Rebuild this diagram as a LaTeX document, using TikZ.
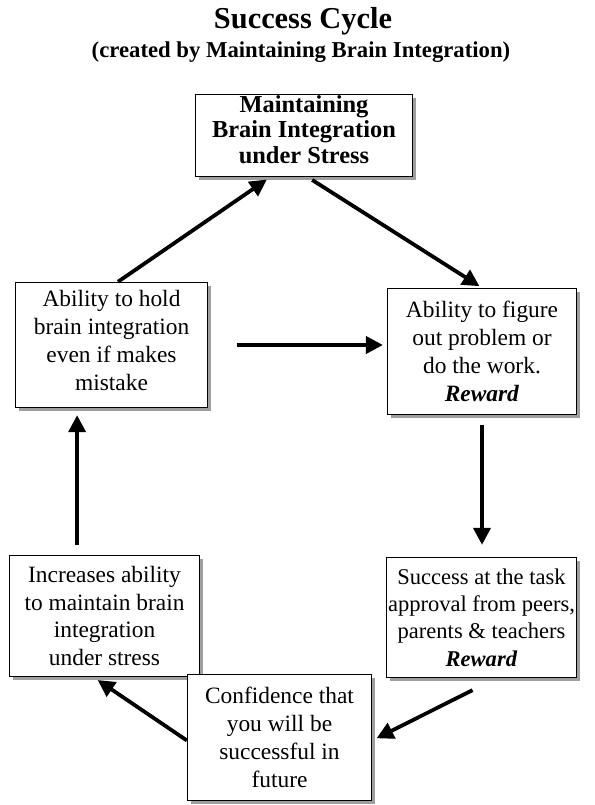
\documentclass[tikz,border=0pt]{standalone}
\usepackage{fontspec}
\setmainfont{Liberation Serif}
\usetikzlibrary{arrows.meta,shadows,calc}
\tikzset{
  box/.style={draw=black, line width=0.9pt, fill=white, align=center, inner sep=0pt,
    font=\fontsize{23.5}{28}\selectfont,
    drop shadow={shadow xshift=3.5pt, shadow yshift=-3.5pt, fill=gray!75, opacity=1}},
  arr/.style={line width=3.8pt, -{Triangle[length=17pt,width=17pt]}},
}
\begin{document}
\begin{tikzpicture}[x=1bp,y=-1bp]
\useasboundingbox (0,0) rectangle (595,805);
\node[font=\bfseries\fontsize{30.5}{34}\selectfont] (title) at (303,21) {Success Cycle};
\node[font=\bfseries\fontsize{22.8}{26}\selectfont] (sub) at (301,52) {(created by Maintaining Brain Integration)};

\node[box, minimum width=218, minimum height=83, font=\bfseries\fontsize{24.5}{26}\selectfont] (T) at (304,135.5)
  {Maintaining\\Brain Integration\\under Stress\rule[-12pt]{0pt}{1pt}};
\node[box, minimum width=193, minimum height=126] (L) at (111.5,345)
  {Ability to hold\\brain integration\\even if makes\\mistake\rule[-9pt]{0pt}{1pt}};
\node[box, minimum width=190, minimum height=127] (R) at (482,351.5)
  {Ability to figure\\out problem or\\do the work.\\\textbf{\textit{Reward}}};
\node[box, minimum width=191, minimum height=122] (BL) at (104.5,616)
  {Increases ability\\to maintain brain\\integration\\under stress};
\node[box, minimum width=191, minimum height=121, font=\fontsize{22.6}{27.5}\selectfont] (BR) at (481.5,617.5)
  {Success at the task\\approval from peers,\\parents \& teachers\\\textbf{\textit{Reward}}};
\node[box, minimum width=185, minimum height=127] (C) at (279.5,737.5)
  {Confidence that\\you will be\\successful in\\future};

\draw[arr, shorten >=4pt] ([xshift=6.5pt]L.north) -- ([xshift=-34pt]T.south);
\draw[arr, shorten <=5pt, shorten >=3pt] ([xshift=4pt]T.south) -- (R.north);
\draw[arr, shorten >=4pt] ([xshift=29pt]L.east) -- (R.west |- L.east);
\draw[arr, shorten <=10pt, shorten >=12pt] (R.south) -- (R.south |- BR.north);
\draw[arr, shorten >=5pt] ([xshift=-9pt,yshift=-12pt]BR.south) -- ([yshift=-3pt]C.east);
\draw[arr, shorten >=5pt] ([yshift=-3pt]C.west) -- ([xshift=-11pt]BL.south);
\draw[arr, shorten <=10pt, shorten >=7pt] ([xshift=-27.5pt]BL.north) -- ([xshift=-27.5pt]BL.north |- L.south);
\end{tikzpicture}
\end{document}
